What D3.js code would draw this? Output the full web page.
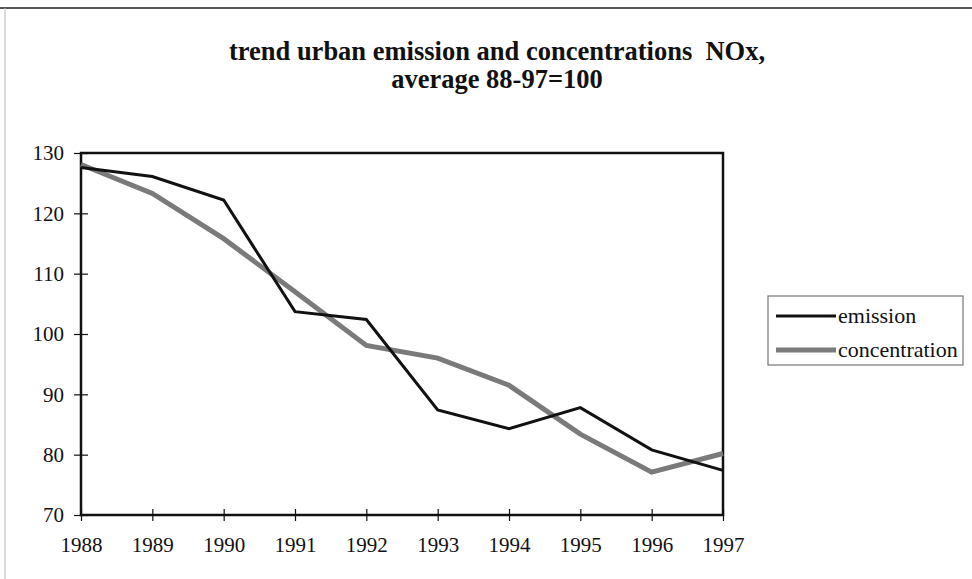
<!DOCTYPE html>
<html>
<head>
<meta charset="utf-8">
<script src="https://cdn.jsdelivr.net/npm/d3@7"></script>
<style>
  html, body { margin: 0; padding: 0; background: #fff; }
  svg { display: block; }
</style>
</head>
<body>
<svg id="chart" width="972" height="579"></svg>
<script>
// NOx trend, index with 1988-1997 average = 100
const years = [1988, 1989, 1990, 1991, 1992, 1993, 1994, 1995, 1996, 1997];
const emission = [127.6, 126.1, 122.2, 103.7, 102.4, 87.4, 84.3, 87.8, 80.8, 77.4];
const concentration = [128.1, 123.3, 115.8, 107.0, 98.1, 96.0, 91.5, 83.4, 77.1, 80.2];
const yTicks = [70, 80, 90, 100, 110, 120, 130];
const seriesNames = ["emission", "concentration"];
const titleLines = ["trend urban emission and concentrations  NOx,", "average 88-97=100"];

const FONT = "Liberation Serif, Times New Roman, serif";
const svg = d3.select("#chart");
const W = 972, H = 579;
const plot = { left: 81, right: 723, top: 153, bottom: 515 };

// outer frame of the chart area
svg.append("line").attr("x1", 0).attr("x2", W).attr("y1", 8).attr("y2", 8)
  .attr("stroke", "#555").attr("stroke-width", 2);
svg.append("line").attr("x1", 5).attr("x2", 5).attr("y1", 8).attr("y2", H)
  .attr("stroke", "#bbb").attr("stroke-width", 1);

// title
svg.append("g").selectAll("text").data(titleLines).join("text")
  .attr("x", 497).attr("y", (d, i) => 60 + i * 28)
  .attr("text-anchor", "middle")
  .style("white-space", "pre")
  .attr("font-family", FONT)
  .attr("font-weight", "bold").attr("font-size", 26.5)
  .attr("fill", "#111")
  .text(d => d);

const x = d3.scaleLinear().domain([years[0], years[years.length - 1]]).range([plot.left, plot.right]);
const y = d3.scaleLinear().domain([70, 130]).range([plot.bottom, plot.top]);

// plot frame
svg.append("rect")
  .attr("x", plot.left).attr("y", plot.top)
  .attr("width", plot.right - plot.left).attr("height", plot.bottom - plot.top)
  .attr("fill", "none").attr("stroke", "#111").attr("stroke-width", 2.5);

const tickFont = g => g.selectAll("text")
  .attr("font-family", FONT)
  .attr("font-size", 21).attr("fill", "#111");

// x axis with crossing ticks
const xAxis = svg.append("g").attr("transform", `translate(0,${plot.bottom})`)
  .call(d3.axisBottom(x).tickValues(years).tickFormat(d3.format("d")).tickSize(6).tickPadding(16));
xAxis.select(".domain").remove();
xAxis.selectAll(".tick line").attr("y1", -6).attr("stroke", "#111").attr("stroke-width", 1.2);
xAxis.call(tickFont);

// y axis with crossing ticks
const yAxis = svg.append("g").attr("transform", `translate(${plot.left},0)`)
  .call(d3.axisLeft(y).tickValues(yTicks).tickSize(7).tickPadding(10));
yAxis.select(".domain").remove();
yAxis.selectAll(".tick line").attr("x1", 7).attr("x2", -7).attr("stroke", "#111").attr("stroke-width", 1.2);
yAxis.call(tickFont);
yAxis.selectAll("text").attr("x", -17);

// series lines
const line = d3.line().x((d, i) => x(years[i])).y(d => y(d));
svg.append("path").datum(concentration)
  .attr("d", line).attr("fill", "none")
  .attr("stroke", "#7a7a7a").attr("stroke-width", 5).attr("stroke-linejoin", "miter");
svg.append("path").datum(emission)
  .attr("d", line).attr("fill", "none")
  .attr("stroke", "#111").attr("stroke-width", 3).attr("stroke-linejoin", "miter");

// legend
const lg = svg.append("g").attr("transform", "translate(768,296)");
lg.append("rect").attr("width", 195).attr("height", 69)
  .attr("fill", "#fff").attr("stroke", "#777").attr("stroke-width", 1.2);
const styles = [{ c: "#111", w: 3 }, { c: "#7a7a7a", w: 5 }];
seriesNames.forEach((name, i) => {
  const yy = 20 + i * 34;
  lg.append("line").attr("x1", 8).attr("x2", 68).attr("y1", yy).attr("y2", yy)
    .attr("stroke", styles[i].c).attr("stroke-width", styles[i].w);
  lg.append("text").attr("x", 70).attr("y", yy + 7)
    .attr("font-family", FONT)
    .attr("font-size", 22).attr("fill", "#111").text(name);
});
</script>
</body>
</html>
